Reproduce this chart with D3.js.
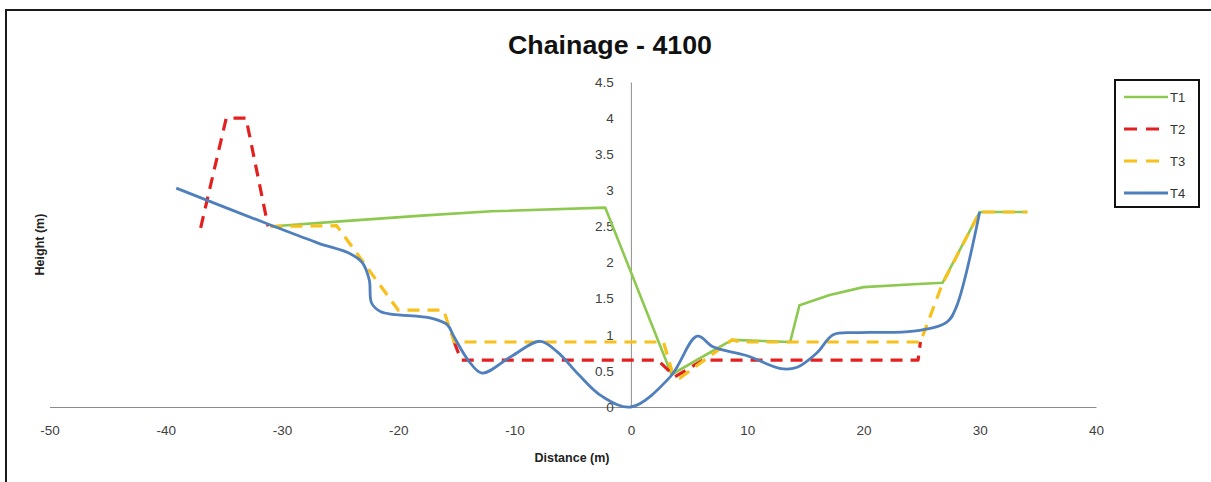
<!DOCTYPE html>
<html>
<head>
<meta charset="utf-8">
<script src="https://cdn.jsdelivr.net/npm/d3@7"></script>
<style>
  html, body { margin: 0; padding: 0; background: #fff; }
  svg { display: block; font-family: "Liberation Sans", Arial, sans-serif; }
</style>
</head>
<body>
<svg id="chart" width="1211" height="482"></svg>
<script>
// Cross-section surveys at chainage 4100: [distance (m), height (m)]
// A null entry marks a break in the surveyed line.
const seriesNames = ["T1", "T2", "T3", "T4"];

const t1 = [[-31, 2.5], [-25, 2.57], [-18, 2.65], [-12, 2.71], [-2.2, 2.76], [3.5, 0.45],
  [8.7, 0.93], [13.7, 0.9], [14.5, 1.41], [17.1, 1.55], [20, 1.66], [24.3, 1.7],
  [26.8, 1.72], [30, 2.7], [34.1, 2.7]];

const t2 = [[-37, 2.48], [-34.8, 4], [-33.1, 4], [-31.2, 2.5], null,
  [-15.2, 0.9], [-14.6, 0.65], [2.3, 0.65], [3.8, 0.42], [6.2, 0.65], [24.7, 0.65], [24.9, 0.9]];

const t3 = [[-31, 2.5], [-25.3, 2.51], [-20, 1.34], [-16.1, 1.34], [-15.2, 0.9], [2.8, 0.9],
  [3.6, 0.46], [4.2, 0.4], [8.7, 0.93], [9.5, 0.9], [24.9, 0.9], [26.8, 1.71], [30, 2.7], [34.1, 2.7]];

const t4 = [[-39.1, 3.03], [-31, 2.52], [-26.9, 2.27], [-24.1, 2.12], [-23.1, 2.0], [-22.5, 1.76],
  [-22.3, 1.44], [-21.5, 1.32], [-17.2, 1.23], [-15.8, 1.14], [-15.2, 0.97], [-14, 0.65],
  [-12.8, 0.47], [-10.3, 0.7], [-7.8, 0.91], [-6.3, 0.76], [-4.5, 0.45], [-2.5, 0.15], [0, 0], [3.4, 0.42],
  [5.7, 0.98], [7.1, 0.83], [10, 0.71], [12.9, 0.53], [14.3, 0.55], [16, 0.75], [17.4, 1.0],
  [19.5, 1.03], [24.3, 1.05], [27.2, 1.18], [28, 1.39], [30, 2.7]];

const xTicks = [-50, -40, -30, -20, -10, 0, 10, 20, 30, 40];
const yTicks = [0, 0.5, 1, 1.5, 2, 2.5, 3, 3.5, 4, 4.5];

const svg = d3.select("#chart");

// outer chart frame
svg.append("rect")
  .attr("x", 6).attr("y", 10).attr("width", 1230).attr("height", 490)
  .attr("fill", "#fff").attr("stroke", "#1a1a1a").attr("stroke-width", 2);

const x = d3.scaleLinear().domain([-50, 40]).range([49.5, 1096]);
const y = d3.scaleLinear().domain([0, 4.5]).range([407, 82]);

// title
svg.append("text")
  .attr("x", 610).attr("y", 54)
  .attr("text-anchor", "middle")
  .attr("font-size", 25).attr("font-weight", "bold").attr("fill", "#111")
  .attr("textLength", 204).attr("lengthAdjust", "spacingAndGlyphs")
  .text("Chainage - 4100");

// horizontal axis through height 0
const xAxis = d3.axisBottom(x).tickValues(xTicks).tickSize(0).tickPadding(18).tickFormat(d => String(d));
const gx = svg.append("g").attr("transform", `translate(0,${y(0)})`).call(xAxis);
gx.select(".domain").attr("stroke", "#8c8c8c").attr("stroke-width", 1.2);
gx.selectAll("text").attr("font-size", 13.5).attr("fill", "#404040").attr("font-family", "Liberation Sans Narrow, Liberation Sans, sans-serif");

// vertical axis through distance 0
const yAxis = d3.axisLeft(y).tickValues(yTicks).tickSize(0).tickPadding(17).tickFormat(d => String(d));
const gy = svg.append("g").attr("transform", `translate(${x(0)},0)`).call(yAxis);
gy.select(".domain").attr("stroke", "#8c8c8c").attr("stroke-width", 1);
gy.selectAll("text").attr("font-size", 13.5).attr("fill", "#404040").attr("font-family", "Liberation Sans Narrow, Liberation Sans, sans-serif");

// axis titles
svg.append("text")
  .attr("x", 572).attr("y", 462).attr("text-anchor", "middle")
  .attr("font-size", 12.5).attr("font-weight", "bold").attr("fill", "#222")
  .text("Distance (m)");
svg.append("text")
  .attr("transform", `translate(44,${(y(0) + y(4.5)) / 2}) rotate(-90)`)
  .attr("text-anchor", "middle")
  .attr("font-size", 12.5).attr("font-weight", "bold").attr("fill", "#222")
  .text("Height (m)");

const styles = {
  T1: { color: "#8ec94f", width: 2.6, dash: null, curve: d3.curveLinear },
  T2: { color: "#e3201f", width: 3.2, dash: "12,8", curve: d3.curveLinear },
  T3: { color: "#f7c01a", width: 3.2, dash: "12,8", curve: d3.curveLinear },
  T4: { color: "#4f7fbc", width: 2.8, dash: null, curve: d3.curveCatmullRom.alpha(0.5) }
};
const data = { T1: t1, T2: t2, T3: t3, T4: t4 };

seriesNames.forEach(name => {
  const s = styles[name];
  const line = d3.line()
    .defined(d => d !== null)
    .x(d => x(d[0])).y(d => y(d[1]))
    .curve(s.curve);
  svg.append("path")
    .datum(data[name])
    .attr("d", line)
    .attr("fill", "none")
    .attr("stroke", s.color)
    .attr("stroke-width", s.width)
    .attr("stroke-dasharray", s.dash)
    .attr("stroke-linejoin", "round");
});

// legend
const lg = svg.append("g");
lg.append("rect")
  .attr("x", 1115).attr("y", 80).attr("width", 84).attr("height", 127)
  .attr("fill", "#fff").attr("stroke", "#111").attr("stroke-width", 2);
const legendY = d3.scalePoint().domain(seriesNames).range([97, 193]);
seriesNames.forEach(name => {
  const s = styles[name];
  lg.append("line")
    .attr("x1", 1124).attr("x2", 1168)
    .attr("y1", legendY(name)).attr("y2", legendY(name))
    .attr("stroke", s.color).attr("stroke-width", s.width)
    .attr("stroke-dasharray", s.dash ? "13,9" : null);
  lg.append("text")
    .attr("x", 1170).attr("y", legendY(name) + 4.5)
    .attr("font-size", 13).attr("fill", "#333")
    .attr("font-family", "Liberation Sans Narrow, Liberation Sans, sans-serif")
    .text(name);
});
</script>
</body>
</html>
